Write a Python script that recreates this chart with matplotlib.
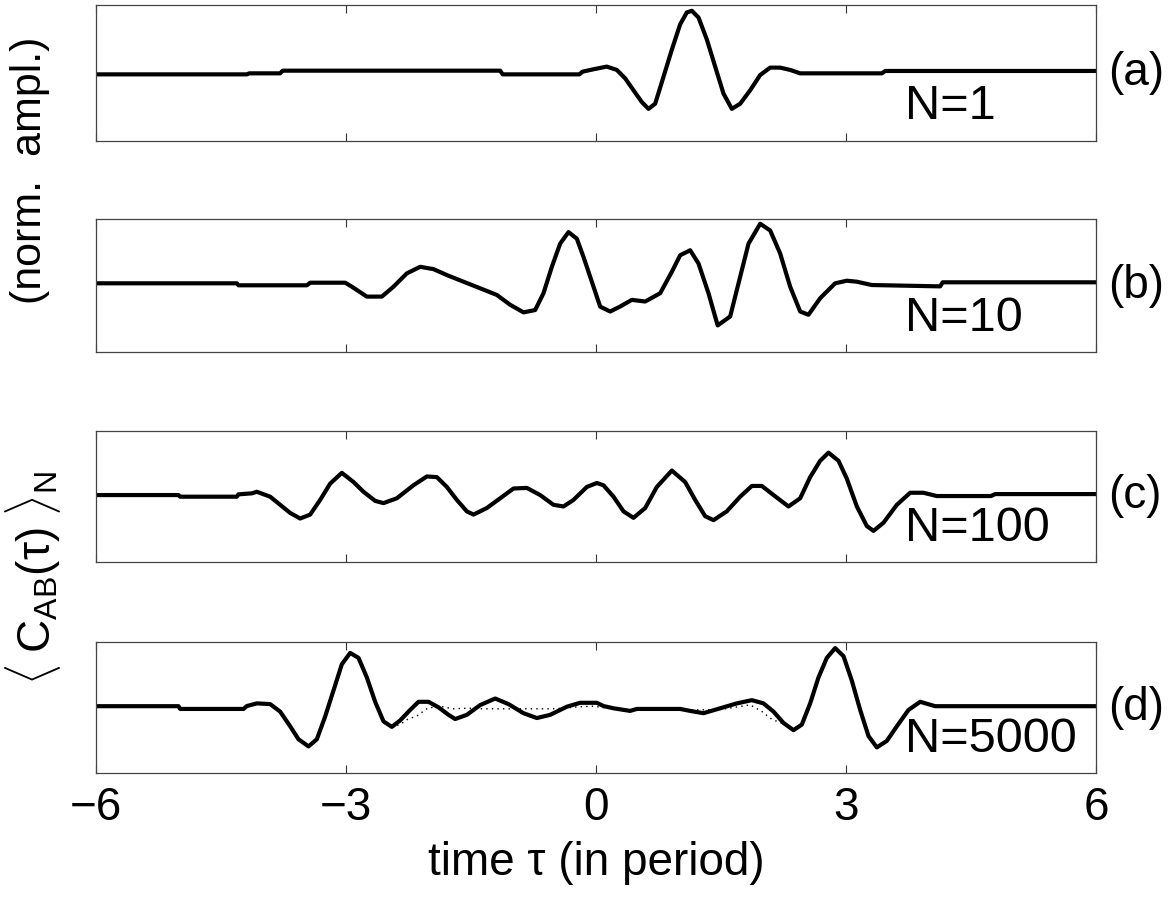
import matplotlib
matplotlib.use("Agg")
import matplotlib.pyplot as plt

plt.rcParams['font.family'] = ['Liberation Sans', 'DejaVu Sans']
plt.rcParams['mathtext.fontset'] = 'custom'
plt.rcParams['mathtext.rm'] = 'Liberation Sans'
plt.rcParams['mathtext.it'] = 'Liberation Sans'
plt.rcParams['mathtext.sf'] = 'Liberation Sans'

# ---------------- data (time in periods, normalized amplitude) ----------------
t_a = [-6.0, -4.19, -4.16, -3.79, -3.76, -1.15, -1.12, -0.20, -0.16, -0.03, 0.13,
       0.25, 0.35, 0.45, 0.55, 0.63, 0.71, 0.81, 0.91, 1.01, 1.09, 1.15, 1.23,
       1.33, 1.43, 1.53, 1.63, 1.73, 1.85, 1.97, 2.09, 2.21, 2.33, 2.45, 3.43,
       3.47, 6.0]
y_a = [-0.02, -0.02, -0.005, -0.005, 0.034, 0.034, -0.02, -0.02, 0.02, 0.055,
       0.094, 0.045, -0.079, -0.254, -0.428, -0.527, -0.452, -0.055, 0.343,
       0.716, 0.891, 0.915, 0.816, 0.493, 0.094, -0.303, -0.527, -0.452, -0.254,
       -0.030, 0.079, 0.079, 0.045, -0.005, -0.005, 0.030, 0.030]

t_b = [-6.0, -4.31, -4.29, -3.47, -3.43, -3.01, -2.93, -2.75, -2.57, -2.43,
       -2.27, -2.11, -1.95, -1.79, -1.59, -1.39, -1.19, -1.03, -0.87, -0.73,
       -0.63, -0.53, -0.43, -0.33, -0.23, -0.15, -0.03, 0.05, 0.17, 0.29, 0.43,
       0.59, 0.77, 0.91, 1.01, 1.13, 1.23, 1.35, 1.46, 1.61, 1.73, 1.83, 1.97,
       2.09, 2.21, 2.33, 2.45, 2.55, 2.69, 2.87, 3.01, 3.13, 3.31, 4.13, 4.16,
       6.0]
y_b = [0.033, 0.033, 0.003, 0.003, 0.042, 0.042, -0.018, -0.167, -0.167,
       -0.018, 0.182, 0.281, 0.246, 0.157, 0.057, -0.042, -0.142, -0.290,
       -0.404, -0.369, -0.116, 0.281, 0.630, 0.803, 0.704, 0.430, -0.018,
       -0.318, -0.391, -0.316, -0.216, -0.241, -0.116, 0.206, 0.455, 0.530,
       0.331, -0.117, -0.600, -0.466, 0.131, 0.629, 0.928, 0.828, 0.481,
       -0.018, -0.391, -0.440, -0.191, 0.033, 0.072, 0.057, 0.007, -0.013,
       0.048, 0.048]

t_c = [-6.0, -5.01, -4.99, -4.31, -4.29, -4.13, -4.07, -3.91, -3.79, -3.67,
       -3.55, -3.43, -3.31, -3.19, -3.05, -2.91, -2.79, -2.65, -2.55, -2.39,
       -2.19, -2.03, -1.91, -1.79, -1.67, -1.55, -1.47, -1.31, -1.15, -0.99,
       -0.83, -0.67, -0.51, -0.39, -0.27, -0.11, 0.01, 0.09, 0.21, 0.33, 0.45,
       0.59, 0.73, 0.91, 1.07, 1.19, 1.31, 1.41, 1.57, 1.73, 1.87, 1.99, 2.13,
       2.31, 2.45, 2.57, 2.69, 2.79, 2.91, 3.01, 3.13, 3.25, 3.33, 3.45, 3.61,
       3.77, 3.93, 4.09, 4.74, 4.79, 6.0]
y_c = [0.022, 0.022, -0.003, -0.003, 0.033, 0.048, 0.072, -0.003, -0.127,
       -0.251, -0.336, -0.276, -0.052, 0.197, 0.361, 0.221, 0.072, -0.067,
       -0.101, -0.027, 0.172, 0.306, 0.296, 0.146, -0.052, -0.227, -0.276,
       -0.176, -0.027, 0.122, 0.131, 0.022, -0.127, -0.152, -0.052, 0.146,
       0.206, 0.171, -0.003, -0.227, -0.326, -0.176, 0.146, 0.396, 0.221,
       -0.052, -0.301, -0.361, -0.226, -0.003, 0.161, 0.161, 0.022, -0.152,
       -0.027, 0.296, 0.545, 0.669, 0.545, 0.272, -0.152, -0.451, -0.525,
       -0.400, -0.127, 0.057, 0.057, 0.007, 0.007, 0.037, 0.037]

t_d = [-6.0, -5.01, -4.99, -4.23, -4.19, -4.07, -3.91, -3.79, -3.67, -3.57,
       -3.45, -3.35, -3.25, -3.15, -3.05, -2.95, -2.85, -2.75, -2.65, -2.55,
       -2.45, -2.35, -2.23, -2.13, -2.01, -1.89, -1.77, -1.69, -1.55, -1.39,
       -1.21, -1.05, -0.87, -0.71, -0.55, -0.35, -0.19, 0.01, 0.09, 0.21, 0.41,
       0.49, 1.01, 1.13, 1.29, 1.49, 1.69, 1.87, 2.01, 2.13, 2.25, 2.37, 2.47,
       2.57, 2.67, 2.77, 2.87, 2.97, 3.07, 3.17, 3.27, 3.37, 3.49, 3.61, 3.75,
       3.89, 4.07, 6.0]
y_d = [0.02, 0.02, -0.022, -0.022, 0.022, 0.063, 0.052, -0.063, -0.287,
       -0.485, -0.594, -0.485, -0.137, 0.261, 0.660, 0.833, 0.758, 0.460,
       0.087, -0.212, -0.296, -0.197, -0.037, 0.087, 0.087, 0.003, -0.112,
       -0.176, -0.112, 0.037, 0.137, 0.052, -0.087, -0.161, -0.112, 0.012,
       0.072, 0.072, 0.022, -0.012, -0.052, -0.022, -0.022, -0.052, -0.087,
       -0.012, 0.063, 0.112, 0.063, -0.063, -0.236, -0.346, -0.261, 0.063,
       0.460, 0.758, 0.907, 0.784, 0.410, -0.037, -0.436, -0.609, -0.510,
       -0.287, -0.037, 0.087, 0.02, 0.02]

# theoretical (dotted) curve in panel (d), where it departs from the measured one
t_d_th = [-2.45, -2.35, -2.26, -2.15, -2.02, -1.87, -1.72, -1.54, -1.37, -1.19,
          -1.03, -0.87, -0.70, -0.53, -0.39, -0.21, -0.03, 0.30, 1.05, 1.50,
          1.85, 1.99, 2.11, 2.25, 2.37]
y_d_th = [-0.296, -0.26, -0.18, -0.13, -0.01, 0.02, -0.02, -0.01, -0.02, -0.02,
          -0.02, -0.02, -0.02, -0.02, -0.01, 0.01, 0.02, -0.04, -0.04, -0.03,
          0.04, -0.06, -0.18, -0.25, -0.346]

panel_tags = ['(a)', '(b)', '(c)', '(d)']
n_labels = ['N=1', 'N=10', 'N=100', 'N=5000']
xticks = [-6, -3, 0, 3, 6]
xtick_labels = ['\u22126', '\u22123', '0', '3', '6']

# ---------------- figure ----------------
W, H = 1172, 901
fig = plt.figure(figsize=(W / 100, H / 100), dpi=100)

# panel boxes in pixels (top, bottom)
boxes = [(5, 141), (219, 352), (431, 562), (642, 773)]
left_px, right_px = 96, 1096
series = [(t_a, y_a), (t_b, y_b), (t_c, y_c), (t_d, y_d)]

axes = []
for i, ((top, bot), (tt, yy)) in enumerate(zip(boxes, series)):
    ax = fig.add_axes([left_px / W, 1 - bot / H, (right_px - left_px) / W,
                       (bot - top) / H])
    ax.plot(tt, yy, color='black', lw=3.0, solid_joinstyle='round',
            solid_capstyle='round')
    if i == 3:
        ax.plot(t_d_th, y_d_th, color='black', lw=1.0, ls=(0, (1, 3)))
    ax.set_xlim(-6, 6)
    ax.set_ylim(-1, 1)
    ax.set_yticks([])
    ax.set_xticks(xticks)
    ax.tick_params(axis='x', direction='in', top=True, bottom=True, length=6,
                   width=0.8, color='#333333', labelsize=33, pad=9)
    if i < 3:
        ax.set_xticklabels([])
    else:
        ax.set_xticklabels(xtick_labels)
    for sp in ax.spines.values():
        sp.set_color('#444444')
        sp.set_linewidth(0.9)
    ax.text(3.71, -0.49, n_labels[i], fontsize=35, va='center', ha='left')
    ax.text(1.012, 0.5, panel_tags[i], transform=ax.transAxes, fontsize=33,
            va='center', ha='left')
    axes.append(ax)

axes[-1].set_xlabel('time \u03c4 (in period)', fontsize=33, labelpad=8)

fig.text(33 / W, 1 - 578 / H,
         r'$\langle\;\mathrm{C}_{\mathrm{AB}}(\tau)\;\rangle_{\mathrm{N}}$',
         rotation=90, fontsize=33, ha='center', va='center')
fig.text(30 / W, 1 - 170 / H, '(norm.  ampl.)', rotation=90, fontsize=31,
         ha='center', va='center')

fig.savefig('out.png', dpi=100)
